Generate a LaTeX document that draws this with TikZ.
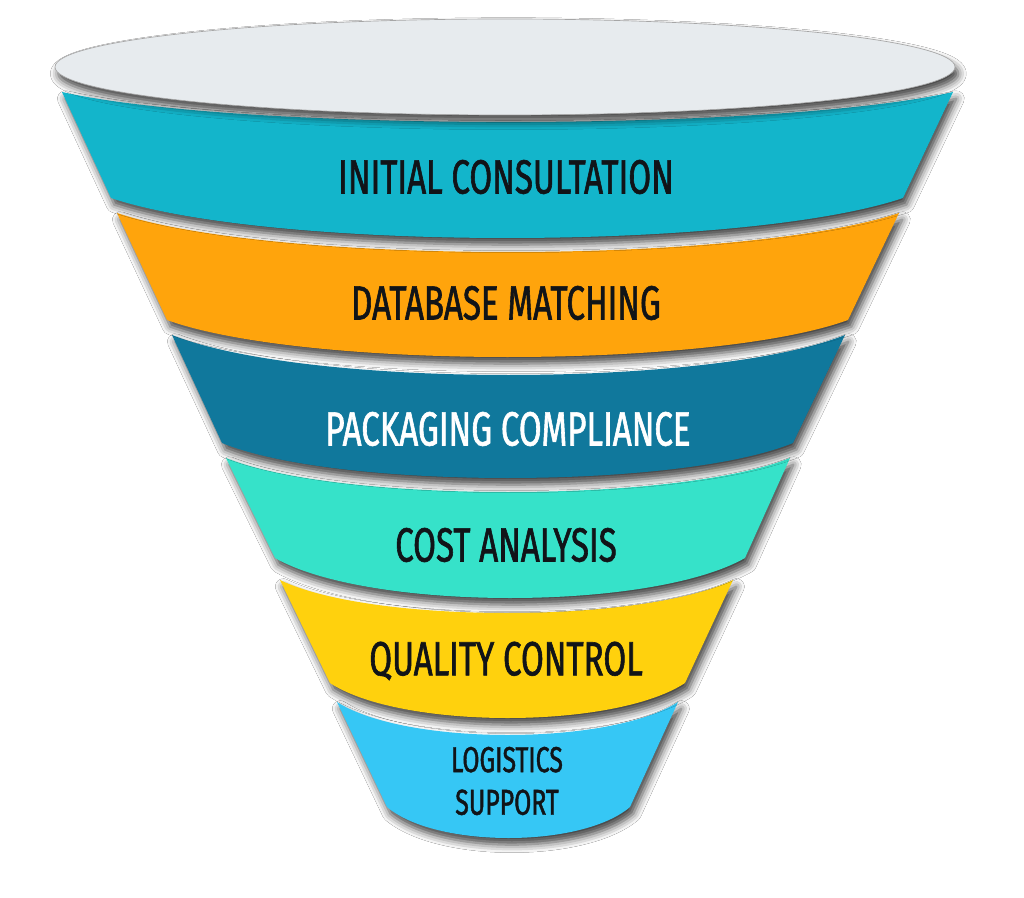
\documentclass[tikz,border=0pt]{standalone}
\usepackage{fontspec}
\setmainfont{Fira Sans}[FakeStretch=0.69, FakeBold=1.2]
\usetikzlibrary{shadows.blur}
\definecolor{cCyan}{HTML}{13B5CB}
\definecolor{cOrange}{HTML}{FFA40C}
\definecolor{cTeal}{HTML}{10789C}
\definecolor{cTurq}{HTML}{36E2C9}
\definecolor{cYellow}{HTML}{FFD10D}
\definecolor{cBlue}{HTML}{36C7F5}
\definecolor{cRim}{HTML}{E7EBEE}
\definecolor{cInk}{HTML}{111418}
\tikzset{
  bandshadow/.style={blur shadow={shadow xshift=2.5pt, shadow yshift=-5pt, shadow blur radius=6pt, shadow opacity=75}},
  label/.style={font=\fontsize{36}{40}\selectfont, text=cInk, inner sep=0pt, anchor=center},
}
\newcommand\funnelband[9]{%
  \pgfmathsetmacro\wt{#4-#2}\pgfmathsetmacro\dt{#5/0.75}%
  \pgfmathsetmacro\wb{#8-#6}\pgfmathsetmacro\db{#9/0.75}%
  \fill[#1, bandshadow] (#2,#3) .. controls ({#2+0.2*\wt},{#3+\dt}) and ({#4-0.2*\wt},{#3+\dt}) .. (#4,#3)
    -- (#8,#7) .. controls ({#8-0.2*\wb},{#7+\db}) and ({#6+0.2*\wb},{#7+\db}) .. (#6,#7) -- cycle;}
\begin{document}
\begin{tikzpicture}[x=0.75pt, y=-0.75pt]
\useasboundingbox[fill=white] (0,0) rectangle (1024,898);
% bands from bottom to top so each shadow falls on the band below
\funnelband{cBlue}{337}{702}{678}{33}{387}{807}{630}{31}
\funnelband{cYellow}{280}{580}{733}{33}{330}{683}{685}{35}
\funnelband{cTurq}{226}{458}{790}{34}{275}{558}{745}{40}
\funnelband{cTeal}{172}{335}{845}{40}{222}{443}{793}{35}
\funnelband{cOrange}{117}{213}{899}{39}{167}{320}{848}{37}
\funnelband{cCyan}{62}{92}{953}{30}{111}{198}{903}{40}
% rim of the funnel
\fill[cRim, bandshadow] (505,67) ellipse [x radius=450, y radius=48];
\draw[gray!70, line width=0.5pt] (505,67) ellipse [x radius=450, y radius=48];
% labels
\node[label] (t1) at (506,177) {INITIAL CONSULTATION};
\node[label] (t2) at (506,303) {DATABASE MATCHING};
\node[label, text=white] (t3) at (508,429) {PACKAGING COMPLIANCE};
\node[label] (t4) at (506,545) {COST ANALYSIS};
\node[label] (t5) at (506,661) {QUALITY CONTROL};
\node[label, font=\fontsize{27}{32}\selectfont, align=center] (t6) at (507,781) {LOGISTICS\\SUPPORT};
\end{tikzpicture}
\end{document}
